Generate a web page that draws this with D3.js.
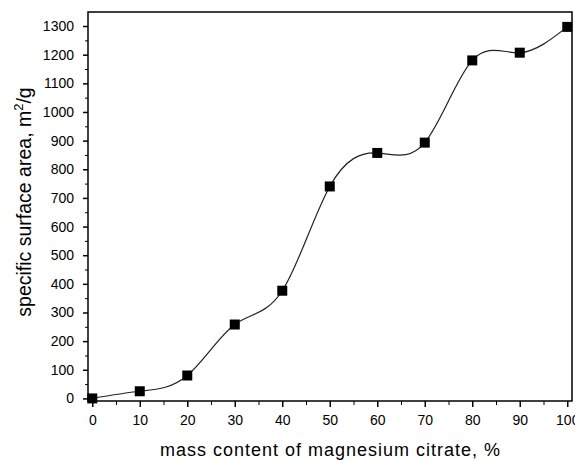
<!DOCTYPE html>
<html>
<head>
<meta charset="utf-8">
<script src="https://cdn.jsdelivr.net/npm/d3@7"></script>
<style>
  body { margin: 0; background: #fff; }
  svg { display: block; font-family: Arial, "Liberation Sans", sans-serif; }
</style>
</head>
<body>
<svg id="chart" width="575" height="461"></svg>
<script>
// data
var content = [0, 10, 20, 30, 40, 50, 60, 70, 80, 90, 100];
var area = [0, 25, 80, 258, 376, 740, 857, 893, 1180, 1207, 1297];
var xTicks = [0, 10, 20, 30, 40, 50, 60, 70, 80, 90, 100];
var yTicks = [0, 100, 200, 300, 400, 500, 600, 700, 800, 900, 1000, 1100, 1200, 1300];

var svg = d3.select("#chart");

var plotL = 88, plotR = 572, plotT = 12, plotB = 401;

var x = d3.scaleLinear().domain([-0.9, 101]).range([plotL, plotR]);
var y = d3.scaleLinear().domain([-9, 1349]).range([plotB, plotT]);

// frame
svg.append("rect")
    .attr("x", plotL).attr("y", plotT)
    .attr("width", plotR - plotL).attr("height", plotB - plotT)
    .attr("fill", "none").attr("stroke", "#000").attr("stroke-width", 1.5);

// x axis: major + minor ticks
var xMinor = d3.range(5, 100, 10);
svg.append("g")
    .attr("transform", "translate(0," + plotB + ")")
    .call(d3.axisBottom(x).tickValues(xMinor).tickSize(4).tickFormat(""))
    .call(function (g) { g.select(".domain").remove(); });

var xAxis = svg.append("g")
    .attr("transform", "translate(0," + plotB + ")")
    .call(d3.axisBottom(x).tickValues(xTicks).tickSize(6).tickPadding(8).tickFormat(d3.format("d")));
xAxis.select(".domain").remove();
xAxis.selectAll("line").attr("stroke-width", 1.5);
xAxis.selectAll("text").attr("font-size", 14).attr("fill", "#000")
    .attr("font-family", "Arial, 'Liberation Sans', sans-serif");

// y axis
var yMinor = d3.range(50, 1350, 100);
svg.append("g")
    .attr("transform", "translate(" + plotL + ",0)")
    .call(d3.axisLeft(y).tickValues(yMinor).tickSize(3).tickFormat(""))
    .call(function (g) { g.select(".domain").remove(); });

var yAxis = svg.append("g")
    .attr("transform", "translate(" + plotL + ",0)")
    .call(d3.axisLeft(y).tickValues(yTicks).tickSize(5).tickPadding(9).tickFormat(d3.format("d")));
yAxis.select(".domain").remove();
yAxis.selectAll("line").attr("stroke-width", 1.5);
yAxis.selectAll("text").attr("font-size", 14).attr("fill", "#000")
    .attr("font-family", "Arial, 'Liberation Sans', sans-serif");

// spline through the points
var pts = content.map(function (c, i) { return [c, area[i]]; });
var line = d3.line()
    .x(function (d) { return x(d[0]); })
    .y(function (d) { return y(d[1]); })
    .curve(d3.curveNatural);

svg.append("path")
    .datum(pts)
    .attr("d", line)
    .attr("fill", "none")
    .attr("stroke", "#222")
    .attr("stroke-width", 1.2);

// square markers
svg.selectAll("rect.pt")
    .data(pts)
    .enter()
    .append("rect")
    .attr("class", "pt")
    .attr("x", function (d) { return x(d[0]) - 5; })
    .attr("y", function (d) { return y(d[1]) - 5; })
    .attr("width", 10)
    .attr("height", 10)
    .attr("fill", "#000");

// axis titles
svg.append("text")
    .attr("x", 330).attr("y", 456)
    .attr("text-anchor", "middle")
    .attr("font-size", 18)
    .attr("textLength", 340)
    .attr("lengthAdjust", "spacing")
    .text("mass content of magnesium citrate, %");

var yt = svg.append("text")
    .attr("transform", "translate(31,202) rotate(-90)")
    .attr("text-anchor", "middle")
    .attr("font-size", 19.5);
yt.append("tspan").text("specific surface area, m");
yt.append("tspan").attr("font-size", 13).attr("dy", -8).text("2");
yt.append("tspan").attr("dy", 8).text("/g");
</script>
</body>
</html>
